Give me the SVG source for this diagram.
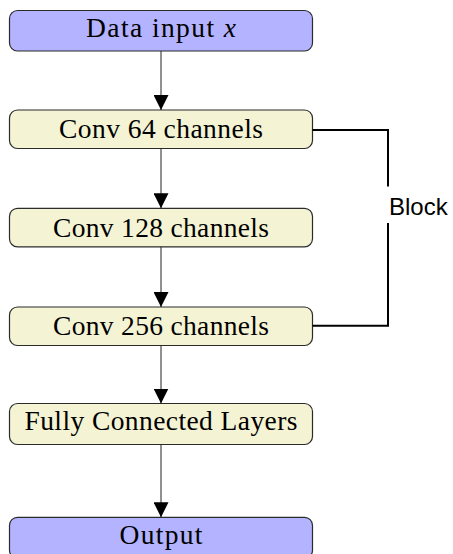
<svg xmlns="http://www.w3.org/2000/svg" width="453" height="554" viewBox="0 0 453 554">
  <style>
    .box { stroke: #2b2b2b; stroke-width: 1.2; }
    .io { fill: #b3b3ff; }
    .layer { fill: #f4f4d4; }
    .lbl { font-family: "Liberation Serif", "DejaVu Serif", serif; font-size: 27.5px; fill: #000; text-anchor: middle; }
    .edge { stroke: #222; stroke-width: 1; fill: none; }
    .brace { stroke: #000; stroke-width: 2; fill: none; }
    .side { font-family: "Liberation Sans", "DejaVu Sans", sans-serif; font-size: 24px; fill: #000; }
  </style>
  <defs>
    <marker id="tip" viewBox="0 0 15 15" refX="15" refY="7.5" markerWidth="15" markerHeight="15" markerUnits="userSpaceOnUse" orient="auto">
      <path d="M0,0 L15,7.5 L0,15 Z" fill="#000"/>
    </marker>
  </defs>

  <g id="input">
    <rect class="box io" x="9.5" y="10.5" width="303" height="40.5" rx="8"/>
    <text class="lbl" x="161" y="37.3" textLength="150">Data input <tspan font-style="italic">x</tspan></text>
  </g>

  <g id="conv64">
    <rect class="box layer" x="9.5" y="110" width="303" height="38.5" rx="8"/>
    <text class="lbl" x="161" y="138.3" textLength="204">Conv 64 channels</text>
  </g>

  <g id="conv128">
    <rect class="box layer" x="9.5" y="208.3" width="303" height="38.5" rx="8"/>
    <text class="lbl" x="161" y="236.6" textLength="216">Conv 128 channels</text>
  </g>

  <g id="conv256">
    <rect class="box layer" x="9.5" y="307" width="303" height="38.5" rx="8"/>
    <text class="lbl" x="161" y="335.3" textLength="216">Conv 256 channels</text>
  </g>

  <g id="fc">
    <rect class="box layer" x="9.5" y="403.5" width="303" height="41" rx="8"/>
    <text class="lbl" x="161" y="429.5" textLength="273">Fully Connected Layers</text>
  </g>

  <g id="output">
    <rect class="box io" x="9.5" y="517.3" width="303" height="41" rx="8"/>
    <text class="lbl" x="161" y="543.6" textLength="83">Output</text>
  </g>

  <g id="connectors">
    <line class="edge" x1="161" y1="51" x2="161" y2="110" marker-end="url(#tip)"/>
    <line class="edge" x1="161" y1="148.5" x2="161" y2="208.3" marker-end="url(#tip)"/>
    <line class="edge" x1="161" y1="246.8" x2="161" y2="307" marker-end="url(#tip)"/>
    <line class="edge" x1="161" y1="345.5" x2="161" y2="403.5" marker-end="url(#tip)"/>
    <line class="edge" x1="161" y1="444.5" x2="161" y2="517.3" marker-end="url(#tip)"/>
    <!-- bracket grouping the three conv layers -->
    <path class="brace" d="M312.5,130 H388 V186.5"/>
    <path class="brace" d="M388,223 V325.7 H312.5"/>
    <text class="side" x="389" y="215">Block</text>
  </g>
</svg>
